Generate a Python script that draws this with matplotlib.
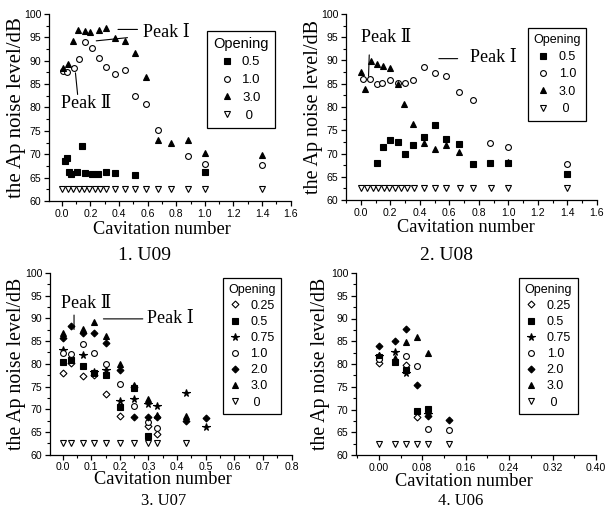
import matplotlib
matplotlib.use("Agg")
import matplotlib.pyplot as plt
from matplotlib.ticker import MultipleLocator, FormatStrFormatter

# ---------------- data ----------------
# 1. U09
u09_x_05 = [0.02, 0.035, 0.047, 0.065, 0.105, 0.143, 0.164, 0.21, 0.255, 0.31, 0.37, 0.51, 1.0]
u09_y_05 = [68.6, 69.1, 66.1, 65.8, 66.3, 71.7, 66.0, 65.7, 65.7, 66.2, 65.9, 65.6, 66.2]
u09_x_10 = [0.01, 0.035, 0.088, 0.123, 0.163, 0.21, 0.26, 0.31, 0.37, 0.44, 0.51, 0.59, 0.67, 0.88, 1.0, 1.4]
u09_y_10 = [87.8, 87.6, 88.5, 90.3, 94.1, 92.8, 90.5, 88.7, 87.2, 88.0, 82.5, 80.7, 75.1, 69.6, 68.0, 67.8]
u09_x_30 = [0.01, 0.04, 0.08, 0.116, 0.16, 0.2, 0.26, 0.31, 0.37, 0.44, 0.51, 0.59, 0.67, 0.76, 0.88, 1.0, 1.4]
u09_y_30 = [88.5, 89.4, 94.3, 96.6, 96.3, 96.2, 96.5, 96.9, 94.8, 94.3, 91.7, 86.5, 73.0, 72.4, 73.0, 70.3, 69.8]
u09_x_0 = [0, 0.04, 0.08, 0.12, 0.155, 0.19, 0.23, 0.27, 0.31, 0.37, 0.44, 0.51, 0.59, 0.67, 0.76, 0.88, 1.0, 1.4]
u09_y_0 = [62.6] * 18

# 2. U08
u08_x_05 = [0.109, 0.149, 0.2, 0.25, 0.3, 0.357, 0.425, 0.5, 0.577, 0.667, 0.758, 0.878, 1.0, 1.4]
u08_y_05 = [67.9, 71.3, 72.8, 72.5, 69.8, 71.9, 73.6, 76.1, 73.1, 72.1, 67.7, 67.9, 67.9, 65.5]
u08_x_10 = [0.018, 0.063, 0.109, 0.147, 0.2, 0.25, 0.3, 0.356, 0.426, 0.5, 0.578, 0.667, 0.758, 0.878, 1.0, 1.4]
u08_y_10 = [86.0, 86.1, 85.0, 85.2, 85.9, 85.1, 85.2, 85.7, 88.6, 87.3, 86.6, 83.3, 81.4, 72.3, 71.4, 67.8]
u08_x_30 = [0, 0.027, 0.068, 0.109, 0.149, 0.2, 0.25, 0.296, 0.357, 0.425, 0.5, 0.577, 0.667, 1.0]
u08_y_30 = [87.6, 83.9, 89.8, 89.3, 88.9, 88.4, 85.0, 80.7, 76.4, 72.3, 71.0, 71.9, 70.3, 68.1]
u08_x_0 = [0, 0.04, 0.08, 0.12, 0.155, 0.19, 0.23, 0.27, 0.31, 0.36, 0.43, 0.5, 0.58, 0.67, 0.76, 0.88, 1.0, 1.4]
u08_y_0 = [62.5] * 18

# 3. U07
u07_x_025 = [0, 0.03, 0.07, 0.11, 0.15, 0.2, 0.3, 0.33]
u07_y_025 = [77.9, 80.1, 77.3, 77.6, 73.4, 68.6, 66.3, 64.5]
u07_x_05 = [0, 0.03, 0.07, 0.11, 0.15, 0.2, 0.25, 0.3]
u07_y_05 = [80.3, 80.9, 79.5, 78.0, 77.5, 70.4, 74.6, 64.2]
u07_x_075 = [0, 0.07, 0.11, 0.15, 0.2, 0.25, 0.3, 0.33, 0.43, 0.5]
u07_y_075 = [83.1, 82.0, 78.1, 78.6, 71.9, 72.3, 71.1, 70.7, 73.6, 66.0]
u07_x_10 = [0, 0.03, 0.07, 0.11, 0.15, 0.2, 0.25, 0.3, 0.33]
u07_y_10 = [82.4, 82.2, 84.3, 82.3, 80.0, 75.6, 70.7, 67.3, 65.8]
u07_x_20 = [0, 0.03, 0.07, 0.11, 0.15, 0.2, 0.25, 0.25, 0.3, 0.33, 0.43, 0.5]
u07_y_20 = [85.7, 88.3, 86.9, 86.7, 84.7, 78.7, 75.0, 68.2, 68.4, 68.2, 67.4, 68.0]
u07_x_30 = [0, 0.07, 0.11, 0.15, 0.2, 0.25, 0.3, 0.33, 0.43]
u07_y_30 = [86.9, 87.6, 89.2, 86.1, 79.9, 75.4, 72.3, 68.8, 68.6]
u07_x_0 = [0, 0.03, 0.07, 0.11, 0.15, 0.2, 0.25, 0.3, 0.33, 0.43]
u07_y_0 = [62.5] * 10

# 4. U06
u06_x_025 = [0, 0.05, 0.07]
u06_y_025 = [80.2, 79.8, 68.4]
u06_x_05 = [0, 0.03, 0.05, 0.07, 0.09]
u06_y_05 = [81.6, 80.5, 78.6, 69.6, 70.1]
u06_x_075 = [0, 0.03, 0.05, 0.09]
u06_y_075 = [81.8, 82.6, 78.0, 69.0]
u06_x_10 = [0, 0.05, 0.07, 0.09, 0.13]
u06_y_10 = [81.0, 81.7, 79.5, 65.8, 65.6]
u06_x_20 = [0, 0.03, 0.05, 0.07, 0.09, 0.13]
u06_y_20 = [84.0, 85.1, 87.6, 75.3, 68.6, 67.7]
u06_x_30 = [0, 0.03, 0.05, 0.07, 0.09]
u06_y_30 = [82.0, 81.3, 84.8, 86.0, 82.5]
u06_x_0 = [0, 0.03, 0.05, 0.07, 0.09, 0.13]
u06_y_0 = [62.5] * 6

panel_titles = ["1. U09", "2. U08", "3. U07", "4. U06"]
xlabel_text = "Cavitation number"
ylabel_text = "the Ap noise level/dB"
legend_title = "Opening"

# ---------------- style ----------------
SANS = ["Liberation Sans", "DejaVu Sans"]
SERIF = ["Liberation Serif", "DejaVu Serif"]
plt.rcParams["font.family"] = SANS

MS = {"s": 3.8, "o": 4.2, "^": 4.9, "v": 4.3, "D": 3.5, "*": 5.5}
STYLE = {
    "0.25": dict(marker="D", mfc="white"),
    "0.5": dict(marker="s", mfc="black"),
    "0.75": dict(marker="*", mfc="black"),
    "1.0": dict(marker="o", mfc="white"),
    "2.0": dict(marker="D", mfc="black"),
    "3.0": dict(marker="^", mfc="black"),
    " 0": dict(marker="v", mfc="white"),
}

fig = plt.figure(figsize=(6.12, 5.28), dpi=100)
W, H = 612.0, 528.0


def make_ax(l, t, r, b):
    return fig.add_axes([l / W, 1 - b / H, (r - l) / W, (b - t) / H])


axes = [
    make_ax(49, 14, 290.7, 201),
    make_ax(346, 14, 597, 200),
    make_ax(50, 273, 291.5, 454.7),
    make_ax(356, 273, 596, 455),
]

series = [
    [("0.5", u09_x_05, u09_y_05), ("1.0", u09_x_10, u09_y_10), ("3.0", u09_x_30, u09_y_30), (" 0", u09_x_0, u09_y_0)],
    [("0.5", u08_x_05, u08_y_05), ("1.0", u08_x_10, u08_y_10), ("3.0", u08_x_30, u08_y_30), (" 0", u08_x_0, u08_y_0)],
    [("0.25", u07_x_025, u07_y_025), ("0.5", u07_x_05, u07_y_05), ("0.75", u07_x_075, u07_y_075),
     ("1.0", u07_x_10, u07_y_10), ("2.0", u07_x_20, u07_y_20), ("3.0", u07_x_30, u07_y_30), (" 0", u07_x_0, u07_y_0)],
    [("0.25", u06_x_025, u06_y_025), ("0.5", u06_x_05, u06_y_05), ("0.75", u06_x_075, u06_y_075),
     ("1.0", u06_x_10, u06_y_10), ("2.0", u06_x_20, u06_y_20), ("3.0", u06_x_30, u06_y_30), (" 0", u06_x_0, u06_y_0)],
]

xlims = [(-0.09, 1.6), (-0.1, 1.6), (-0.044, 0.8), (-0.042, 0.4)]
xmajor = [0.2, 0.2, 0.1, 0.08]
xfmt = ["%.1f", "%.1f", "%.1f", "%.2f"]
# x-label: (axes x centre, axes y of baseline)
xlab_pos = [(0.467, -0.178), (0.478, -0.174), (0.468, -0.161), (0.45, -0.169)]
ylab_x = [-0.135, -0.13, -0.137, -0.146]
ylab_size = [15, 14.5, 14.3, 14.3]
leg_anchor = [(0.655, 0.911), (0.724, 0.923), (0.715, 0.972), (0.68, 0.972)]
leg_fs = [9.5, 9, 9, 9]
leg_title_fs = [10.5, 9, 9, 9]
leg_spacing = [0.42, 0.42, 0.33, 0.33]
leg_tpad = [0.75, 0.85, 0.85, 0.85]

for i, ax in enumerate(axes):
    handles = []
    for lab, xs, ys in series[i]:
        st = STYLE[lab]
        h, = ax.plot(xs, ys, linestyle="none", marker=st["marker"], ms=MS[st["marker"]],
                     mfc=st["mfc"], mec="black", mew=0.8, label=lab, clip_on=False)
        handles.append(h)
    ax.set_xlim(*xlims[i])
    ax.set_ylim(60, 100)
    ax.spines["top"].set_visible(False)
    ax.spines["right"].set_visible(False)
    for s in ("left", "bottom"):
        ax.spines[s].set_linewidth(0.9)
    ax.xaxis.set_major_locator(MultipleLocator(xmajor[i]))
    ax.xaxis.set_minor_locator(MultipleLocator(xmajor[i] / 2))
    ax.xaxis.set_major_formatter(FormatStrFormatter(xfmt[i]))
    ax.yaxis.set_major_locator(MultipleLocator(5))
    ax.yaxis.set_minor_locator(MultipleLocator(2.5))
    ax.tick_params(which="major", direction="out", length=3.5, width=0.9, labelsize=7.6, pad=2)
    ax.tick_params(which="minor", direction="out", length=2, width=0.8)
    if i == 3:
        ax.set_xticks([0.0, 0.08, 0.16, 0.24, 0.32, 0.40])
    ax.text(xlab_pos[i][0], xlab_pos[i][1], xlabel_text, transform=ax.transAxes,
            ha="center", va="baseline", fontsize=13.2, family=SERIF)
    ax.text(ylab_x[i], 0.5, ylabel_text, transform=ax.transAxes, rotation=90,
            ha="center", va="center", fontsize=ylab_size[i], family=SERIF)
    leg = ax.legend(handles=handles, title=legend_title, loc="upper left",
                    bbox_to_anchor=leg_anchor[i], frameon=True, fancybox=False,
                    edgecolor="black", framealpha=1, fontsize=leg_fs[i],
                    title_fontsize=leg_title_fs[i], handlelength=0.8, handletextpad=leg_tpad[i],
                    borderpad=0.45, labelspacing=leg_spacing[i], borderaxespad=0)
    leg.get_frame().set_linewidth(0.9)

# peak annotations
PK = dict(family=SERIF, fontsize=13, va="center", ha="left")
LN = dict(color="black", lw=0.8)
a1, a2, a3, a4 = axes
a1.text(0.569, 96.0, "Peak \u2160", **PK)
a1.annotate("", xy=(0.373, 96.7), xytext=(0.548, 96.7), arrowprops=dict(arrowstyle="-", **LN))
a1.annotate("", xy=(0.221, 94.2), xytext=(0.478, 95.0), arrowprops=dict(arrowstyle="-", **LN))
a1.text(-0.005, 80.9, "Peak \u2161", **PK)
a1.annotate("", xy=(0.093, 88.0), xytext=(0.112, 82.2), arrowprops=dict(arrowstyle="-", **LN))

a2.text(0.0, 94.9, "Peak \u2161", **PK)
a2.annotate("", xy=(0.058, 91.8), xytext=(0.052, 86.0), arrowprops=dict(arrowstyle="-", **LN))
a2.text(0.737, 90.6, "Peak \u2160", **PK)
a2.annotate("", xy=(0.51, 90.4), xytext=(0.675, 90.4), arrowprops=dict(arrowstyle="-", **LN))

a3.text(-0.006, 93.2, "Peak \u2161", **PK)
a3.annotate("", xy=(0.04, 91.35), xytext=(0.04, 86.95), arrowprops=dict(arrowstyle="-", **LN))
a3.text(0.294, 89.9, "Peak \u2160", **PK)
a3.annotate("", xy=(0.133, 89.9), xytext=(0.29, 89.9), arrowprops=dict(arrowstyle="-", **LN))

# panel captions
cap_pos = [(145, 255, 14), (446, 255, 14), (164, 501, 12), (461, 501, 12)]
for (cx, cy, fs), t in zip(cap_pos, panel_titles):
    fig.text(cx / W, 1 - cy / H, t, ha="center", va="center", fontsize=fs, family=SERIF)

fig.savefig("out.png", dpi=100)
